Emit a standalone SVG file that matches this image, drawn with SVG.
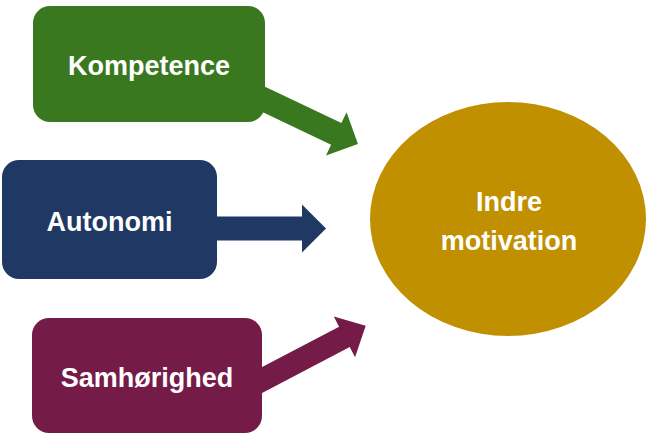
<svg xmlns="http://www.w3.org/2000/svg" width="647" height="435" viewBox="0 0 647 435">
  <style>
    .lbl { font-family: "Liberation Sans", Arial, sans-serif; font-weight: bold; font-size: 27px; fill: #ffffff; text-anchor: middle; }
    .green { fill: #3A7820; }
    .blue { fill: #203864; }
    .maroon { fill: #741B47; }
    .gold { fill: #C09000; }
  </style>
  <rect width="647" height="435" fill="#ffffff"/>
  <g id="connectors">
    <polygon class="green" transform="translate(264,99.5) rotate(25.4)" points="-20,-12 80,-12 80,-24 104,0 80,24 80,12 -20,12"/>
    <polygon class="blue" transform="translate(0,228.5)" points="200,-12 302,-12 302,-24 326,0 302,24 302,12 200,12"/>
    <polygon class="maroon" transform="translate(262,380) rotate(-27.6)" points="-20,-11.5 93,-11.5 93,-23 117,0 93,23 93,11.5 -20,11.5"/>
  </g>
  <g id="kompetence">
    <rect class="green" x="33" y="6" width="232" height="116" rx="17" ry="17"/>
    <text class="lbl" x="149" y="75">Kompetence</text>
  </g>
  <g id="autonomi">
    <rect class="blue" x="2" y="160" width="215" height="119" rx="17" ry="17"/>
    <text class="lbl" x="109.5" y="231">Autonomi</text>
  </g>
  <g id="samhorighed">
    <rect class="maroon" x="32" y="318" width="230" height="115" rx="17" ry="17"/>
    <text class="lbl" x="147" y="387">Samhørighed</text>
  </g>
  <g id="indre-motivation">
    <ellipse class="gold" cx="508" cy="219" rx="138" ry="117"/>
    <text class="lbl" x="509" y="211">Indre</text>
    <text class="lbl" x="509" y="250">motivation</text>
  </g>
</svg>
